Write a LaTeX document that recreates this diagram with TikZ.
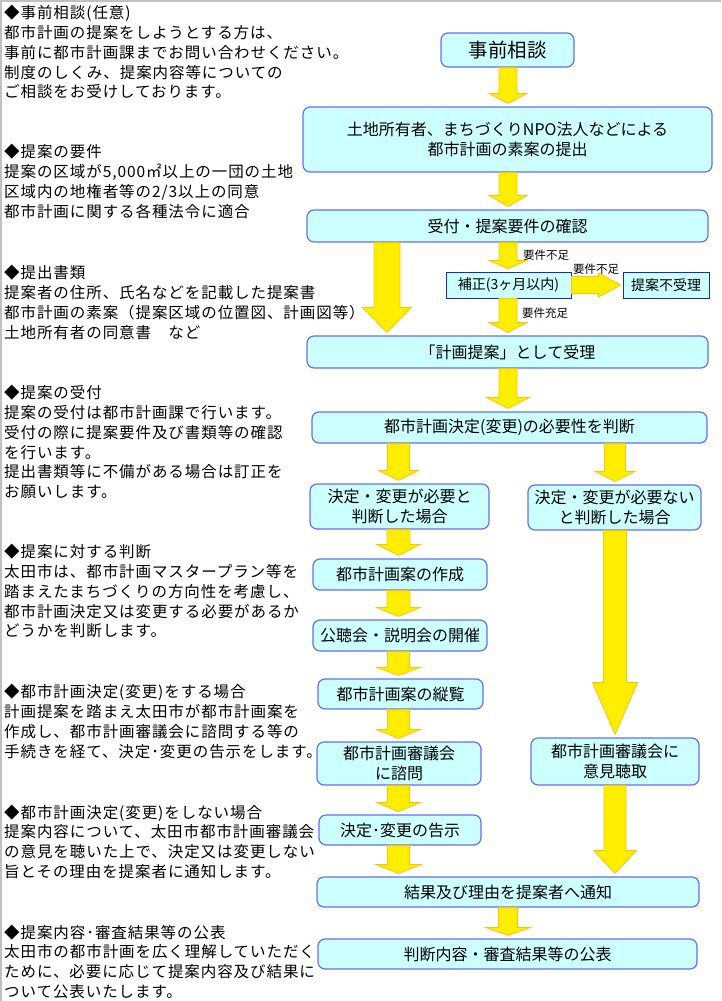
\documentclass[tikz,border=0pt]{standalone}
\usepackage{fontspec}
\setmainfont{Noto Sans CJK JP}
\usepackage{tikz}
\usetikzlibrary{calc}
\usetikzlibrary{positioning}
\usepackage{color}

\definecolor{boxfill}{RGB}{204,255,255}
\definecolor{boxline}{RGB}{100,112,240}
\definecolor{fixline}{RGB}{30,40,190}
\definecolor{arrowfill}{RGB}{255,238,0}
\definecolor{arrowline}{RGB}{255,196,0}
\definecolor{framegray}{RGB}{192,192,192}

\tikzset{
  flowbox/.style={draw=boxline,fill=boxfill,rounded corners=7pt,line width=1.2pt,inner sep=0pt,align=center,font=\fontsize{16}{19.5}\selectfont},
  fixbox/.style={draw=fixline,fill=boxfill,line width=1pt,inner sep=0pt,font=\fontsize{14}{16}\selectfont},
  yarrow/.style={fill=arrowfill,draw=arrowline,line width=0.8pt,line join=miter},
  notetext/.style={anchor=north west,inner sep=0pt,align=left,font=\fontsize{15.5}{19.7}\selectfont\addfontfeature{LetterSpace=6}},
  smalllabel/.style={anchor=west,inner sep=0pt,font=\fontsize{11.5}{13}\selectfont}
}

% yellow block arrows: from, to, shaft half width, head half width, head length
\newcommand{\flowdown}[5]{%
  \path[yarrow] let \p1=(#1), \p2=(#2) in
    (\x1-#3,\y1) -- (\x1+#3,\y1) -- (\x1+#3,\y2+3pt+#5) -- (\x1+#4,\y2+3pt+#5)
    -- (\x1,\y2+3pt) -- (\x1-#4,\y2+3pt+#5) -- (\x1-#3,\y2+3pt+#5) -- cycle;}
\newcommand{\flowright}[5]{%
  \path[yarrow] let \p1=(#1), \p2=(#2) in
    (\x1,\y1+#3) -- (\x2-2pt-#5,\y1+#3) -- (\x2-2pt-#5,\y1+#4) -- (\x2-2pt,\y1)
    -- (\x2-2pt-#5,\y1-#4) -- (\x2-2pt-#5,\y1-#3) -- (\x1,\y1-#3) -- cycle;}

\begin{document}
\begin{tikzpicture}[x=1pt,y=-1pt]
\useasboundingbox (0,0) rectangle (721,1001);
\draw[framegray,line width=1.5pt] (0,0.75) -- (721,0.75);
\draw[framegray,line width=1.5pt] (0.75,0) -- (0.75,1001);

% notes on the left
\path (4,5) node(note1) [notetext] {\strut◆事前相談(任意)\\都市計画の提案をしようとする方は、\\事前に都市計画課までお問い合わせください。\\制度のしくみ、提案内容等についての\\ご相談をお受けしております。};
\path (4,144) node(note2) [notetext] {\strut◆提案の要件\\提案の区域が5,000㎡以上の一団の土地\\区域内の地権者等の2/3以上の同意\\都市計画に関する各種法令に適合};
\path (4,265) node(note3) [notetext] {\strut◆提出書類\\提案者の住所、氏名などを記載した提案書\\都市計画の素案（提案区域の位置図、計画図等）\\土地所有者の同意書　など};
\path (4,385) node(note4) [notetext] {\strut◆提案の受付\\提案の受付は都市計画課で行います。\\受付の際に提案要件及び書類等の確認\\を行います。\\提出書類等に不備がある場合は訂正を\\お願いします。};
\path (4,544) node(note5) [notetext] {\strut◆提案に対する判断\\太田市は、都市計画マスタープラン等を\\踏まえたまちづくりの方向性を考慮し、\\都市計画決定又は変更する必要があるか\\どうかを判断します。};
\path (4,684) node(note6) [notetext] {\strut◆都市計画決定(変更)をする場合\\計画提案を踏まえ太田市が都市計画案を\\作成し、都市計画審議会に諮問する等の\\手続きを経て、決定･変更の告示をします。};
\path (4,804) node(note7) [notetext] {\strut◆都市計画決定(変更)をしない場合\\提案内容について、太田市都市計画審議会\\の意見を聴いた上で、決定又は変更しない\\旨とその理由を提案者に通知します。};
\path (4,924) node(note8) [notetext] {\strut◆提案内容･審査結果等の公表\\太田市の都市計画を広く理解していただく\\ために、必要に応じて提案内容及び結果に\\ついて公表いたします。};

% flow
\path (507.5,50) node(consult) [flowbox,minimum width=133,minimum height=34,font=\fontsize{19.5}{22}\selectfont] {事前相談};
\path (507.5,139.5) node(submit) [flowbox,minimum width=409,minimum height=65] {土地所有者、まちづくりNPO法人などによる\\都市計画の素案の提出};
\path (507.5,226) node(check) [flowbox,minimum width=401,minimum height=32] {受付・提案要件の確認};
\path (508.5,285) node(fix) [fixbox,minimum width=125,minimum height=26] {補正(3ヶ月以内)};
\path (666,285) node(reject) [fixbox,minimum width=86,minimum height=26] {提案不受理};
\path (507.5,352) node(accept) [flowbox,minimum width=401,minimum height=32] {「計画提案」として受理};
\path (509.5,427.5) node(judge) [flowbox,minimum width=395,minimum height=31] {都市計画決定(変更)の必要性を判断};
\path (399.5,506.5) node(needY) [flowbox,minimum width=179,minimum height=45] {決定・変更が必要と\\判断した場合};
\path (614.5,507.5) node(needN) [flowbox,minimum width=173,minimum height=45] {決定・変更が必要ない\\と判断した場合};
\path (400,574.5) node(draft) [flowbox,minimum width=174,minimum height=31] {都市計画案の作成};
\path (400,635.5) node(hearing) [flowbox,minimum width=174,minimum height=31] {公聴会・説明会の開催};
\path (400.5,694) node(inspect) [flowbox,minimum width=165,minimum height=30] {都市計画案の縦覧};
\path (399,763.5) node(council) [flowbox,minimum width=164,minimum height=43] {都市計画審議会\\に諮問};
\path (615,761.5) node(opinion) [flowbox,minimum width=168,minimum height=47] {都市計画審議会に\\意見聴取};
\path (400,830) node(notice) [flowbox,minimum width=162,minimum height=30] {決定･変更の告示};
\path (508,892) node(notify) [flowbox,minimum width=382,minimum height=30] {結果及び理由を提案者へ通知};
\path (507.5,954) node(publish) [flowbox,minimum width=379,minimum height=30] {判断内容・審査結果等の公表};

\coordinate (mainc) at (508,0);
\coordinate (bigc) at (387,0);
\coordinate (leftc) at (398.5,0);
\coordinate (rightc) at (615,0);

\flowdown{consult.south -| mainc}{submit.north -| mainc}{9pt}{19pt}{10pt}
\flowdown{submit.south -| mainc}{check.north -| mainc}{9pt}{19pt}{11pt}
\flowdown{check.south -| bigc}{accept.north -| bigc}{13pt}{24.5pt}{25pt}
\flowdown{check.south -| mainc}{fix.north -| mainc}{9pt}{19pt}{8pt}
\flowdown{fix.south -| mainc}{accept.north -| mainc}{9pt}{19pt}{10pt}
\flowright{fix.east}{reject.west}{8.5pt}{12pt}{22pt}
\flowdown{accept.south -| mainc}{judge.north -| mainc}{9pt}{21.5pt}{11pt}
\flowdown{judge.south -| leftc}{needY.north -| leftc}{11pt}{20pt}{10pt}
\flowdown{judge.south -| rightc}{needN.north -| rightc}{10.5pt}{20pt}{10pt}
\flowdown{needY.south -| leftc}{draft.north -| leftc}{11.5pt}{22pt}{11pt}
\flowdown{draft.south -| leftc}{hearing.north -| leftc}{11.5pt}{22pt}{9pt}
\flowdown{hearing.south -| leftc}{inspect.north -| leftc}{11pt}{22pt}{8pt}
\flowdown{inspect.south -| leftc}{council.north -| leftc}{11pt}{22pt}{9pt}
\flowdown{council.south -| leftc}{notice.north -| leftc}{11pt}{22pt}{9pt}
\flowdown{notice.south -| leftc}{notify.north -| leftc}{11pt}{23pt}{9pt}
\flowdown{needN.south -| rightc}{opinion.north -| rightc}{11.5pt}{22.5pt}{52pt}
\flowdown{opinion.south -| rightc}{notify.north -| rightc}{11pt}{21.5pt}{23pt}
\flowdown{notify.south -| mainc}{publish.north -| mainc}{9.5pt}{22.5pt}{8pt}

% branch labels
\path (523,255) node(lackA) [smalllabel] {要件不足};
\path (573,269) node(lackB) [smalllabel] {要件不足};
\path (522,313) node(meet) [smalllabel] {要件充足};
\end{tikzpicture}
\end{document}
